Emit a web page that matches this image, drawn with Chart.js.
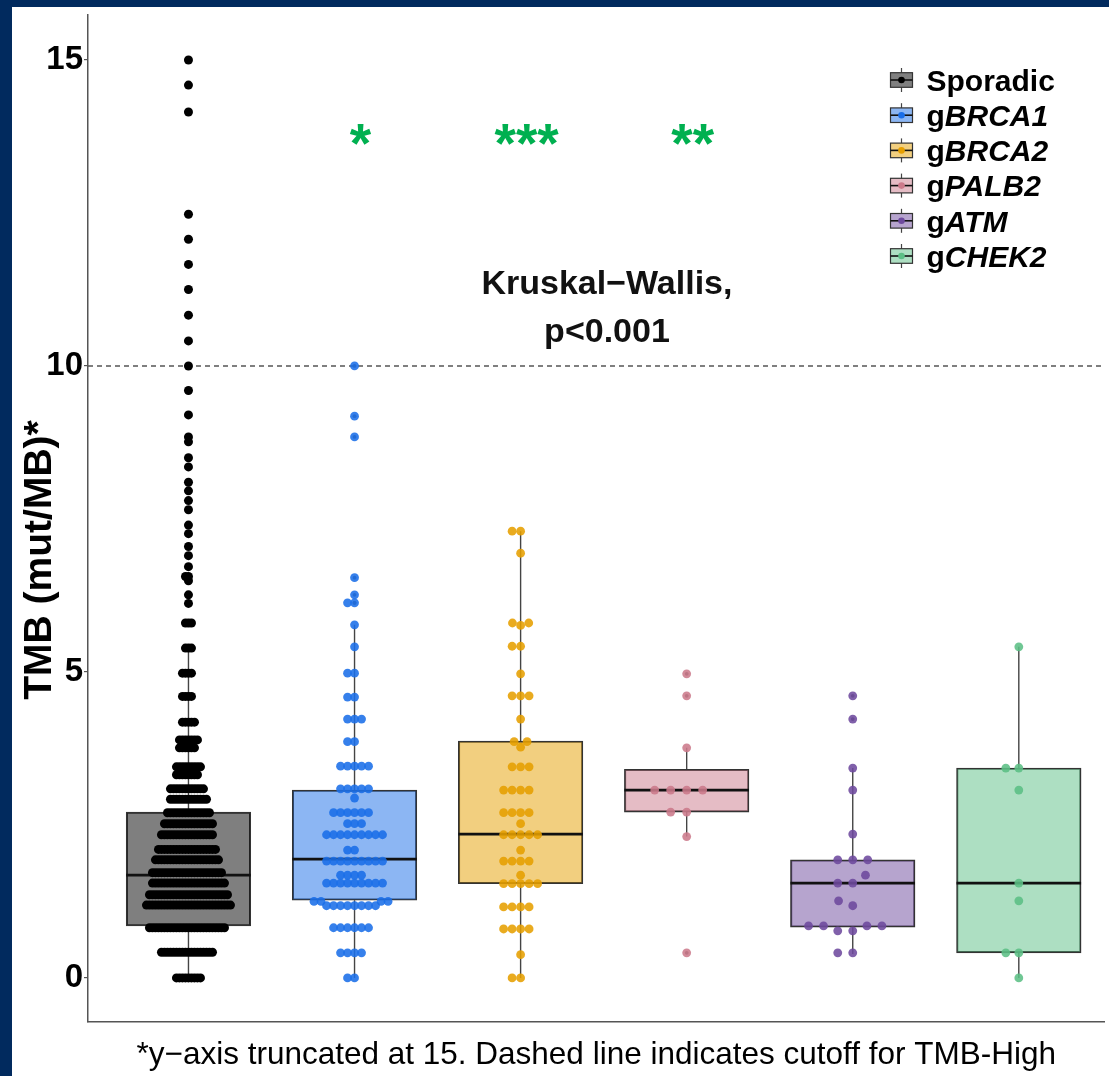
<!DOCTYPE html>
<html>
<head>
<meta charset="utf-8">
<title>TMB by germline status</title>
<script src="https://cdn.jsdelivr.net/npm/chart.js@4.4.1/dist/chart.umd.min.js"></script>
<style>
  html, body { margin: 0; padding: 0; background: #012a5e; overflow: hidden; }
  #frame { position: absolute; left: 12px; top: 7px; width: 1097px; height: 1069px; background: #fff; }
  canvas { display: block; }
</style>
</head>
<body>
<div id="frame"><canvas id="tmb" width="1097" height="1069"></canvas></div>
<script>
/* ─── Chart.js Defaults ──────────────────────────────────── */
Chart.defaults.font.family = '"Liberation Sans", Arial, Helvetica, sans-serif';
Chart.defaults.color = '#000';

/* ─── Data ───────────────────────────────────────────────── */
const GROUPS        = ['Sporadic', 'gBRCA1', 'gBRCA2', 'gPALB2', 'gATM', 'gCHEK2'];
const LEGEND_PLAIN  = ['Sporadic', 'g', 'g', 'g', 'g', 'g'];
const LEGEND_ITALIC = ['', 'BRCA1', 'BRCA2', 'PALB2', 'ATM', 'CHEK2'];
const SIGNIF        = ['', '*', '***', '**', '', ''];

// Sporadic: many tied values, so kept as level + count
const SPORADIC_LEVELS = [0, 0.42, 0.82, 1.19, 1.36, 1.55, 1.72, 1.93, 2.10, 2.34, 2.52, 2.70,
  2.92, 3.09, 3.32, 3.45, 3.76, 3.89, 4.18, 4.60, 4.98, 5.39, 5.80, 6.12, 6.26, 6.49,
  6.56, 6.72, 6.90, 7.05, 7.26, 7.40, 7.65, 7.80, 7.96, 8.10, 8.35, 8.50, 8.76, 8.84,
  9.20, 9.60, 10.0, 10.41, 10.83, 11.25, 11.66, 12.07, 12.48, 14.15, 14.59, 15.0];
const SPORADIC_COUNTS = [9, 18, 26, 29, 27, 25, 24, 22, 20, 18, 17, 15,
  13, 12, 8, 9, 6, 7, 5, 4, 4, 3, 3, 1, 1, 1,
  2, 1, 1, 1, 1, 1, 1, 1, 1, 1, 1, 1, 1, 1,
  1, 1, 1, 1, 1, 1, 1, 1, 1, 1, 1, 1];

const BRCA1_TMB = [0, 0, 0.41, 0.41, 0.41, 0.41, 0.82, 0.82, 0.82, 0.82, 0.82, 0.82,
  1.18, 1.18, 1.18, 1.18, 1.18, 1.18, 1.18, 1.18, 1.25, 1.25, 1.25, 1.25,
  1.55, 1.55, 1.55, 1.55, 1.55, 1.55, 1.55, 1.55, 1.55, 1.68, 1.68, 1.68, 1.68,
  1.91, 1.91, 1.91, 1.91, 1.91, 1.91, 1.91, 1.91, 1.91, 2.09, 2.09,
  2.34, 2.34, 2.34, 2.34, 2.34, 2.34, 2.34, 2.34, 2.34, 2.52, 2.52, 2.52,
  2.70, 2.70, 2.70, 2.70, 2.70, 2.70, 2.94, 3.09, 3.09, 3.09, 3.09, 3.09,
  3.46, 3.46, 3.46, 3.46, 3.46, 3.86, 3.86, 4.23, 4.23, 4.23, 4.59, 4.59,
  4.98, 4.98, 5.41, 5.77, 6.13, 6.13, 6.26, 6.54, 8.84, 9.18, 10.0];
const BRCA2_TMB = [0, 0, 0.38, 0.80, 0.80, 0.80, 0.80, 1.16, 1.16, 1.16, 1.16,
  1.54, 1.54, 1.54, 1.54, 1.54, 1.68, 1.91, 1.91, 1.91, 1.91, 2.09,
  2.34, 2.34, 2.34, 2.34, 2.34, 2.52, 2.70, 2.70, 2.70, 2.70, 3.07, 3.07, 3.07, 3.07,
  3.45, 3.45, 3.45, 3.77, 3.86, 3.86, 4.23, 4.61, 4.61, 4.61, 4.97,
  5.42, 5.42, 5.76, 5.80, 5.80, 6.94, 7.30, 7.30];
const PALB2_TMB = [0.41, 2.31, 2.71, 2.71, 3.07, 3.07, 3.07, 3.07, 3.76, 4.61, 4.97];
const ATM_TMB   = [0.41, 0.41, 0.77, 0.77, 0.85, 0.85, 0.85, 0.85, 1.18, 1.26, 1.55, 1.55,
  1.68, 1.93, 1.93, 1.93, 2.35, 3.07, 3.43, 4.23, 4.61];
const CHEK2_TMB = [0, 0.41, 0.41, 1.26, 1.55, 3.07, 3.43, 3.43, 5.41];

// Box-plot statistics per group
const BOX_Q1    = [0.85, 1.27, 1.54, 2.71, 0.83, 0.41];
const BOX_MED   = [1.68, 1.94, 2.35, 3.07, 1.55, 1.55];
const BOX_Q3    = [2.71, 3.07, 3.87, 3.41, 1.93, 3.43];
const WHISK_LO  = [0, 0, 0, 2.31, 0.39, 0];
const WHISK_HI  = [5.39, 5.77, 7.30, 3.76, 3.43, 5.41];

const Y_TICKS = [0, 5, 10, 15];
const TMB_HIGH_CUTOFF = 10;
const Y_TITLE = 'TMB (mut/MB)*';
const KW_LINES = ['Kruskal\u2212Wallis,', 'p<0.001'];
const CAPTION = '*y\u2212axis truncated at 15. Dashed line indicates cutoff for TMB-High';

/* ─── Styles ─────────────────────────────────────────────── */
const POINT_COLOR = ['#000000', '#1a6ee8', '#e69f00', '#cc7a8b', '#6e4a9e', '#5cbf85'];
const POINT_ALPHA = [1, 0.88, 0.88, 0.88, 0.88, 0.88];
const BOX_ALPHA   = 0.5;
const SWARM_GAP   = [3, 7, 8.5, 16, 15, 13];   // px between neighbouring dots
const BOX_HALF    = 0.375;                      // half box width in x units
const FONT = '"Liberation Sans", Arial, Helvetica, sans-serif';

const rgba = (hex, a) => {
  const n = parseInt(hex.slice(1), 16);
  return `rgba(${n >> 16},${(n >> 8) & 255},${n & 255},${a})`;
};

const sporadicTMB = SPORADIC_LEVELS.flatMap((v, i) => Array(SPORADIC_COUNTS[i]).fill(v));
const GROUP_VALUES = [sporadicTMB, BRCA1_TMB, BRCA2_TMB, PALB2_TMB, ATM_TMB, CHEK2_TMB];

/* ─── Beeswarm layout (deterministic, from the values) ───── */
function swarmOffsets(values, yPixel, gap) {
  const idx = values.map((v, i) => i).sort((a, b) => values[a] - values[b]);
  const placed = [];
  const out = new Array(values.length).fill(0);
  const d2 = gap * gap;
  idx.forEach(i => {
    const py = yPixel(values[i]);
    const near = placed.filter(p => Math.abs(p.y - py) < gap);
    const cands = [0];
    near.forEach(p => {
      const h = Math.sqrt(d2 - (p.y - py) ** 2);
      cands.push(p.x - h, p.x + h);
    });
    cands.sort((a, b) => Math.abs(a) - Math.abs(b));
    const px = cands.find(c => near.every(p => (p.x - c) ** 2 + (p.y - py) ** 2 >= d2 - 0.01));
    placed.push({ x: px, y: py });
    out[i] = px;
  });
  return out;
}

/* ─── Datasets ───────────────────────────────────────────── */
const pointSets = GROUP_VALUES.map((vals, i) => ({
  type: 'scatter',
  label: GROUPS[i],
  data: vals.map(v => ({ x: i + 1, y: v })),
  backgroundColor: rgba(POINT_COLOR[i], POINT_ALPHA[i]),
  borderWidth: 0,
  pointRadius: i === 0 ? 4.5 : 4.4,
  order: 1,
}));

const outlierData = [];
GROUP_VALUES.forEach((vals, i) => {
  vals.filter(v => v < WHISK_LO[i] - 1e-6 || v > WHISK_HI[i] + 1e-6)
      .forEach(v => outlierData.push({ x: i + 1, y: v }));
});

const whiskerData = [];
const medianData = [];
GROUPS.forEach((g, i) => {
  whiskerData.push({ x: i + 1, y: BOX_Q3[i] }, { x: i + 1, y: WHISK_HI[i] }, { x: i + 1, y: null },
                   { x: i + 1, y: BOX_Q1[i] }, { x: i + 1, y: WHISK_LO[i] }, { x: i + 1, y: null });
  medianData.push({ x: i + 1 - BOX_HALF, y: BOX_MED[i] }, { x: i + 1 + BOX_HALF, y: BOX_MED[i] },
                  { x: i + 1, y: null });
});

const boxSet = {
  type: 'bar', label: 'boxes',
  data: GROUPS.map((g, i) => ({ x: i + 1, y: [BOX_Q1[i], BOX_Q3[i]] })),
  backgroundColor: POINT_COLOR.map(c => rgba(c, BOX_ALPHA)),
  borderColor: '#333', borderWidth: 1.4, borderSkipped: false,
  order: 5,
};

const datasets = [
  ...pointSets,
  {
    type: 'scatter', label: 'outliers', data: outlierData,
    backgroundColor: '#555', borderWidth: 0, pointRadius: 1.9, order: 3,
  },
  {
    type: 'line', label: 'medians', data: medianData,
    borderColor: '#111', borderWidth: 2.8, pointRadius: 0, spanGaps: false, fill: false, order: 4,
  },
  boxSet,
  {
    type: 'line', label: 'whiskers', data: whiskerData,
    borderColor: '#444', borderWidth: 1.4, pointRadius: 0, spanGaps: false, fill: false, order: 6,
  },
];

/* ─── Plugins ────────────────────────────────────────────── */
const cutoffLine = {
  id: 'cutoffLine',
  beforeDatasetsDraw(chart) {
    const { ctx, chartArea, scales: { y } } = chart;
    const py = y.getPixelForValue(TMB_HIGH_CUTOFF);
    ctx.save();
    ctx.strokeStyle = '#555';
    ctx.lineWidth = 1.4;
    ctx.setLineDash([5, 4]);
    ctx.beginPath();
    ctx.moveTo(chartArea.left, py);
    ctx.lineTo(chartArea.right, py);
    ctx.stroke();
    ctx.restore();
  },
};

const annotations = {
  id: 'annotations',
  afterDatasetsDraw(chart) {
    const { ctx, chartArea, scales: { x, y } } = chart;
    ctx.save();

    // y-axis title (sits lower than the panel centre in the original)
    ctx.save();
    ctx.translate(28, chartArea.top + 545);
    ctx.rotate(-Math.PI / 2);
    ctx.fillStyle = '#000';
    ctx.font = `bold 39px ${FONT}`;
    ctx.textAlign = 'center';
    ctx.textBaseline = 'middle';
    ctx.fillText(Y_TITLE, 0, 0);
    ctx.restore();

    // significance stars vs. sporadic
    ctx.fillStyle = '#00b050';
    ctx.font = `bold 55px ${FONT}`;
    ctx.textAlign = 'center';
    ctx.textBaseline = 'alphabetic';
    SIGNIF.forEach((s, i) => {
      if (s) ctx.fillText(s, x.getPixelForValue(i + 1) + 6, y.getPixelForValue(13.85) + 0.57 * 55);
    });

    // Kruskal-Wallis label
    ctx.fillStyle = '#111';
    ctx.font = `bold 34px ${FONT}`;
    ctx.fillText(KW_LINES[0], x.getPixelForValue(3.52), y.getPixelForValue(11.37) + 12);
    ctx.fillText(KW_LINES[1], x.getPixelForValue(3.52), y.getPixelForValue(10.59) + 12);

    // legend with box-plot keys
    const keyX = chartArea.right - 203;
    const textX = chartArea.right - 178;
    GROUPS.forEach((g, i) => {
      const cy = chartArea.top + 65 + i * 35.2;
      ctx.strokeStyle = '#444';
      ctx.lineWidth = 1.2;
      ctx.beginPath();
      ctx.moveTo(keyX, cy - 12);
      ctx.lineTo(keyX, cy + 12);
      ctx.stroke();
      ctx.fillStyle = '#fff';
      ctx.fillRect(keyX - 11, cy - 7.3, 22, 14.6);
      ctx.fillStyle = rgba(POINT_COLOR[i], BOX_ALPHA);
      ctx.fillRect(keyX - 11, cy - 7.3, 22, 14.6);
      ctx.strokeStyle = '#333';
      ctx.strokeRect(keyX - 11, cy - 7.3, 22, 14.6);
      ctx.strokeStyle = '#111';
      ctx.lineWidth = 1.6;
      ctx.beginPath();
      ctx.moveTo(keyX - 11, cy);
      ctx.lineTo(keyX + 11, cy);
      ctx.stroke();
      ctx.fillStyle = POINT_COLOR[i];
      ctx.beginPath();
      ctx.arc(keyX, cy, 3.3, 0, Math.PI * 2);
      ctx.fill();

      ctx.fillStyle = '#000';
      ctx.textAlign = 'left';
      ctx.font = `bold 30px ${FONT}`;
      ctx.fillText(LEGEND_PLAIN[i], textX, cy + 10.7);
      const w = ctx.measureText(LEGEND_PLAIN[i]).width;
      ctx.font = `italic bold 30px ${FONT}`;
      ctx.fillText(LEGEND_ITALIC[i], textX + w, cy + 10.7);
    });
    ctx.restore();
  },
};

/* ─── Chart ──────────────────────────────────────────────── */
const chart = new Chart(document.getElementById('tmb'), {
  type: 'bar',
  data: { datasets },
  options: {
    responsive: false,
    animation: false,
    layout: { padding: { top: 8, left: 0, right: 0, bottom: 0 } },
    plugins: { legend: { display: false }, tooltip: { enabled: false } },
    scales: {
      x: {
        type: 'linear', min: 0.395, max: 6.516, offset: false,
        grid: { display: false },
        ticks: { display: false },
        border: { display: true, color: '#555', width: 1.5 },
        title: { display: true, text: CAPTION, color: '#000', font: { size: 31.5 }, padding: { top: 0, bottom: 2 } },
        afterFit: s => { s.height = 54; s.paddingLeft = 0; s.paddingRight = 0; },
      },
      y: {
        type: 'linear', min: -0.72, max: 15.735,
        afterBuildTicks: s => { s.ticks = Y_TICKS.map(v => ({ value: v })); },
        ticks: { color: '#000', font: { size: 33, weight: 'bold' }, padding: 1 },
        grid: { drawOnChartArea: false, drawTicks: true, tickLength: 4, color: '#555', lineWidth: 1.2 },
        border: { display: true, color: '#555', width: 1.5 },
        afterFit: s => { s.width = 76; s.paddingTop = 0; s.paddingBottom = 0; },
      },
    },
  },
  plugins: [cutoffLine, annotations],
});

/* ─── Spread the dots and size the boxes once the scales exist ─ */
const yPix = v => chart.scales.y.getPixelForValue(v);
const unitPx = chart.scales.x.getPixelForValue(1) - chart.scales.x.getPixelForValue(0);
GROUP_VALUES.forEach((vals, i) => {
  const offs = swarmOffsets(vals, yPix, SWARM_GAP[i]);
  chart.data.datasets[i].data = vals.map((v, j) => ({ x: i + 1 + offs[j] / unitPx, y: v }));
});
boxSet.barThickness = unitPx * BOX_HALF * 2;
chart.update('none');
</script>
</body>
</html>
